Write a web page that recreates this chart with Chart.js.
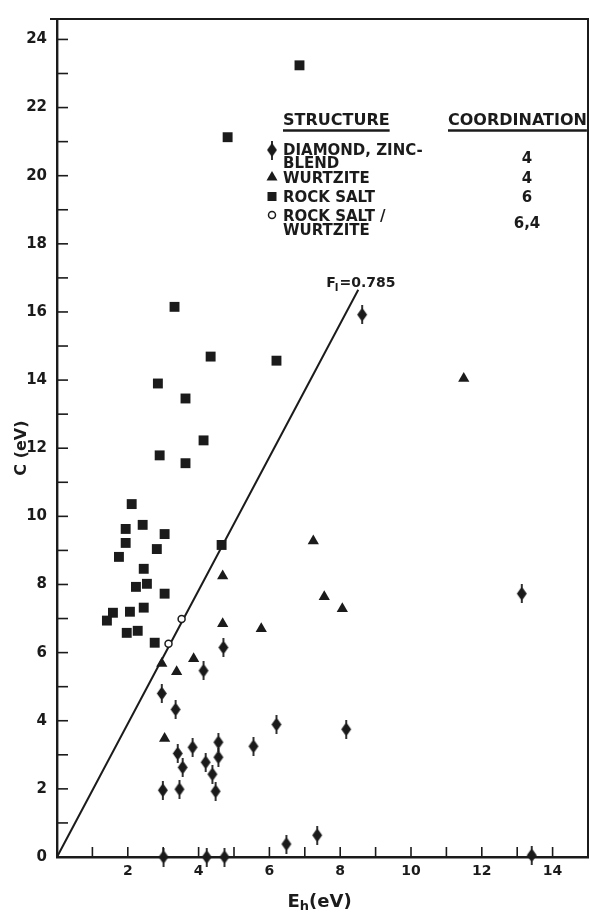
<!DOCTYPE html>
<html>
<head>
<meta charset="utf-8">
<script src="https://cdn.jsdelivr.net/npm/chart.js@4"></script>
<style>
  html, body { margin: 0; padding: 0; background: #fff; }
  #wrap { width: 590px; height: 916px; position: relative; }
</style>
</head>
<body>
<div id="wrap"><canvas id="chart"></canvas></div>
<script>
// Values: E_h (x) and C (y), both in eV

// Diamond / zinc-blende (coordination 4)
const diamondE = [4.70, 4.14, 2.96, 3.35, 6.20, 4.56, 3.83, 5.55, 3.41, 4.56, 4.20, 3.55, 4.39,
  2.99, 3.46, 4.48, 6.48, 3.01, 4.23, 4.73, 7.35, 13.41, 8.17, 13.13, 8.62];
const diamondC = [6.15, 5.47, 4.80, 4.33, 3.89, 3.37, 3.22, 3.25, 3.04, 2.93, 2.78, 2.63, 2.43,
  1.96, 1.99, 1.93, 0.38, 0.00, 0.00, 0.00, 0.64, 0.05, 3.75, 7.73, 15.92];

// Wurtzite (coordination 4)
const wurtziteE = [4.68, 4.68, 7.24, 7.55, 8.06, 5.77, 11.49, 2.96, 3.38, 3.86, 3.04];
const wurtziteC = [8.25, 6.85, 9.28, 7.64, 7.29, 6.70, 14.05, 5.68, 5.44, 5.82, 3.48];

// Rock salt (coordination 6)
const rockSaltE = [6.85, 4.82, 3.32, 4.34, 6.20, 2.85, 3.63, 4.14, 2.90, 3.63, 2.11, 1.94, 2.42,
  3.04, 1.94, 2.82, 1.75, 4.65, 2.45, 2.23, 2.54, 3.04, 1.58, 1.41, 2.06, 2.45, 1.97, 2.28, 2.76];
const rockSaltC = [23.24, 21.13, 16.15, 14.69, 14.57, 13.90, 13.46, 12.23, 11.79, 11.56, 10.36, 9.63, 9.75,
  9.48, 9.22, 9.04, 8.81, 9.16, 8.46, 7.93, 8.02, 7.73, 7.17, 6.94, 7.20, 7.32, 6.58, 6.64, 6.29];

// Rock salt / wurtzite (coordination 6,4)
const mixedE = [3.52, 3.15];
const mixedC = [6.99, 6.26];

// Critical ionicity line F_i = 0.785
const lineE = [0, 8.51];
const lineC = [0, 16.65];
const lineLabel = "0.785";

// Legend table
const legendHeaders = ["STRUCTURE", "COORDINATION"];
const legendNames = [["DIAMOND, ZINC-", "BLEND"], ["WURTZITE"], ["ROCK SALT"], ["ROCK SALT /", "WURTZITE"]];
const legendCoord = ["4", "4", "6", "6,4"];

const INK = "#1b1b1b";
const FONT = "DejaVu Sans";

const toPoints = (xs, ys) => xs.map((x, i) => ({ x: x, y: ys[i] }));

// Tall diamond with a vertical stem, as in the printed figure
function makeDiamond() {
  const c = document.createElement("canvas");
  c.width = 12;
  c.height = 19;
  const g = c.getContext("2d");
  g.fillStyle = INK;
  g.strokeStyle = INK;
  g.beginPath();
  g.moveTo(6, 2.5);
  g.lineTo(11, 9.5);
  g.lineTo(6, 16.5);
  g.lineTo(1, 9.5);
  g.closePath();
  g.fill();
  g.lineWidth = 1.8;
  g.beginPath();
  g.moveTo(6, 0);
  g.lineTo(6, 19);
  g.stroke();
  return c;
}
const diamondMark = makeDiamond();

function strokeLine(ctx, x1, y1, x2, y2) {
  ctx.beginPath();
  ctx.moveTo(x1, y1);
  ctx.lineTo(x2, y2);
  ctx.stroke();
}

const paperPlugin = {
  id: "paper",
  afterDraw(chart) {
    const ctx = chart.ctx;
    const area = chart.chartArea;
    const xs = chart.scales.x;
    const ys = chart.scales.y;
    ctx.save();
    ctx.strokeStyle = INK;
    ctx.fillStyle = INK;

    // top and right frame
    ctx.lineWidth = 2;
    ctx.beginPath();
    ctx.moveTo(area.left - 7, area.top);
    ctx.lineTo(area.right, area.top);
    ctx.lineTo(area.right, area.bottom);
    ctx.stroke();

    // inward tick marks
    ctx.lineWidth = 1.6;
    xs.ticks.forEach((t) => {
      if (t.value <= 0 || t.value >= xs.max) return;
      const px = xs.getPixelForValue(t.value);
      strokeLine(ctx, px, area.bottom, px, area.bottom - 10);
    });
    ys.ticks.forEach((t) => {
      if (t.value <= 0) return;
      const py = ys.getPixelForValue(t.value);
      strokeLine(ctx, area.left, py, area.left + 11, py);
    });

    // axis titles
    ctx.font = "bold 16px " + FONT;
    ctx.textBaseline = "alphabetic";
    ctx.save();
    ctx.translate(area.left - 31, area.top + (area.bottom - area.top) * 0.512);
    ctx.rotate(-Math.PI / 2);
    ctx.textAlign = "center";
    ctx.fillText("C (eV)", 0, 0);
    ctx.restore();

    const ex = (area.left + area.right) / 2 - 35;
    const ey = area.bottom + 50;
    ctx.textAlign = "left";
    ctx.font = "bold 18px " + FONT;
    ctx.fillText("E", ex, ey);
    const ew = ctx.measureText("E").width;
    ctx.font = "bold 13px " + FONT;
    ctx.fillText("h", ex + ew, ey + 3);
    const hw = ctx.measureText("h").width;
    ctx.font = "bold 18px " + FONT;
    ctx.fillText("(eV)", ex + ew + hw, ey);

    // F_i label at the end of the line
    const lx = xs.getPixelForValue(lineE[1]) - 32;
    const ly = ys.getPixelForValue(lineC[1]) - 3;
    ctx.font = "bold 14px " + FONT;
    ctx.fillText("F", lx, ly);
    let w = ctx.measureText("F").width;
    ctx.font = "bold 10px " + FONT;
    ctx.fillText("I", lx + w - 1, ly + 4);
    w += ctx.measureText("I").width;
    ctx.font = "bold 14px " + FONT;
    ctx.fillText("=" + lineLabel, lx + w, ly);

    // legend table
    ctx.font = "bold 16px " + FONT;
    ctx.lineWidth = 2.4;
    const heads = [283, 448];
    legendHeaders.forEach((h, i) => {
      ctx.fillText(h, heads[i], 125);
      const hw2 = ctx.measureText(h).width;
      strokeLine(ctx, heads[i], 130.5, heads[i] + hw2, 130.5);
    });
    const rowBase = [[155, 168], [183], [202], [221, 235]];
    const coordBase = [163, 183, 202, 228];
    ctx.font = "bold 15px " + FONT;
    legendNames.forEach((lines, i) => {
      lines.forEach((s, j) => ctx.fillText(s, 283, rowBase[i][j]));
      ctx.textAlign = "center";
      ctx.fillText(legendCoord[i], 527, coordBase[i]);
      ctx.textAlign = "left";
    });
    // legend symbols
    const sx = 272;
    ctx.drawImage(diamondMark, sx - 6, 150 - 9.5);
    ctx.beginPath();
    ctx.moveTo(sx, 171);
    ctx.lineTo(sx + 5.5, 180.5);
    ctx.lineTo(sx - 5.5, 180.5);
    ctx.closePath();
    ctx.fill();
    ctx.fillRect(sx - 4.5, 192, 9, 9);
    ctx.beginPath();
    ctx.lineWidth = 1.5;
    ctx.fillStyle = "#fff";
    ctx.arc(sx, 215, 3.5, 0, Math.PI * 2);
    ctx.fill();
    ctx.stroke();

    ctx.restore();
  },
};

const tickFont = { family: FONT, size: 15, weight: "bold" };

new Chart(document.getElementById("chart"), {
  type: "scatter",
  data: {
    datasets: [
      {
        label: "Diamond, zinc-blende",
        data: toPoints(diamondE, diamondC),
        pointStyle: diamondMark,
        pointRadius: 6,
        order: 1,
        clip: false,
      },
      {
        label: "Wurtzite",
        data: toPoints(wurtziteE, wurtziteC),
        pointStyle: "triangle",
        pointRadius: 6.5,
        backgroundColor: INK,
        borderColor: INK,
        borderWidth: 0,
        order: 1,
        clip: false,
      },
      {
        label: "Rock salt",
        data: toPoints(rockSaltE, rockSaltC),
        pointStyle: "rect",
        pointRadius: 7,
        backgroundColor: INK,
        borderColor: INK,
        borderWidth: 0,
        order: 1,
        clip: false,
      },
      {
        label: "Rock salt / wurtzite",
        data: toPoints(mixedE, mixedC),
        pointStyle: "circle",
        pointRadius: 3.5,
        backgroundColor: "#fff",
        borderColor: INK,
        borderWidth: 1.5,
        order: 1,
        clip: false,
      },
      {
        label: "F_i = 0.785",
        data: toPoints(lineE, lineC),
        showLine: true,
        borderColor: INK,
        borderWidth: 2,
        pointRadius: 0,
        order: 5,
        clip: false,
      },
    ],
  },
  options: {
    responsive: true,
    maintainAspectRatio: false,
    animation: false,
    layout: { autoPadding: false, padding: { top: 17, right: 2, left: 0, bottom: 0 } },
    plugins: {
      legend: { display: false },
      tooltip: { enabled: false },
    },
    scales: {
      x: {
        type: "linear",
        min: 0,
        max: 15,
        afterFit: (scale) => {
          scale.height = 59;
          scale.paddingLeft = 0;
          scale.paddingRight = 0;
        },
        ticks: {
          stepSize: 1,
          autoSkip: false,
          maxRotation: 0,
          padding: 6,
          color: INK,
          font: { family: FONT, size: 14, weight: "bold" },
          callback: (v) => (v > 0 && v < 15 && v % 2 === 0 ? String(v) : ""),
        },
        grid: { display: false, drawTicks: false },
        border: { display: true, color: INK, width: 2.4 },
      },
      y: {
        type: "linear",
        min: 0,
        max: 24.6,
        afterFit: (scale) => { scale.width = 57; },
        ticks: {
          stepSize: 1,
          autoSkip: false,
          padding: 10,
          color: INK,
          font: tickFont,
          callback: (v) => (v % 2 === 0 ? String(v) : ""),
        },
        grid: { display: false, drawTicks: false },
        border: { display: true, color: INK, width: 2.4 },
      },
    },
  },
  plugins: [paperPlugin],
});
</script>
</body>
</html>
